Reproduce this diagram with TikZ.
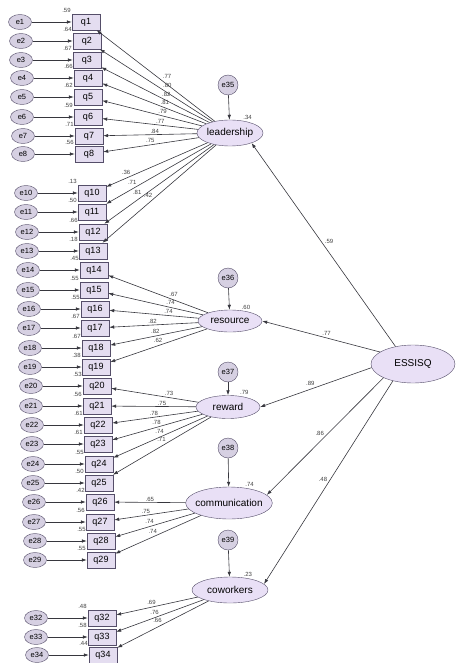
\documentclass[tikz,border=0pt]{standalone}
\usepackage{fontspec}
\setmainfont{Liberation Sans}
\usepackage{tikz}
\usetikzlibrary{arrows.meta,shapes.geometric}

\definecolor{boxfill}{RGB}{228,221,240}
\definecolor{latfill}{RGB}{233,224,246}
\definecolor{errfill}{RGB}{214,208,226}
\definecolor{edgegray}{RGB}{55,55,62}
\definecolor{rimgray}{RGB}{85,78,105}

\begin{document}
\begin{tikzpicture}[x=1pt,y=-1pt,>={Latex[length=5pt,width=3.5pt]},node distance=66pt,auto]
        \tikzstyle{item}=[draw=rimgray,fill=boxfill,rectangle,minimum width=28pt,minimum height=16pt,inner sep=0pt,font=\fontsize{9}{10}\selectfont]
        \tikzstyle{err}=[draw=rimgray,fill=errfill,ellipse,minimum width=23pt,minimum height=15pt,inner sep=0pt,font=\fontsize{7.5}{8}\selectfont]
        \tikzstyle{dist}=[err,circle,minimum size=20pt]
        \tikzstyle{latent}=[draw=rimgray,fill=latfill,ellipse,inner xsep=-3pt,inner ysep=0pt,font=\fontsize{10}{11}\selectfont]
        \tikzstyle{coef}=[font=\fontsize{6}{7}\selectfont,inner sep=1pt,text=black!75]
        \tikzstyle{r2}=[font=\fontsize{6}{7}\selectfont,inner sep=1pt,text=black!75]

        \useasboundingbox (0,0) rectangle (456,663);

        \node[item,label={[r2]north west:.59}]  (q1)  at (86,22)   {q1};
        \node[item,label={[r2]north west:.64}]  (q2)  at (87,41)   {q2};
        \node[item,label={[r2]north west:.67}]  (q3)  at (87,60)   {q3};
        \node[item,label={[r2]north west:.66}]  (q4)  at (88,78)   {q4};
        \node[item,label={[r2]north west:.62}]  (q5)  at (88,97)   {q5};
        \node[item,label={[r2]north west:.59}]  (q6)  at (88,117)  {q6};
        \node[item,label={[r2]north west:.71}]  (q7)  at (89,136)  {q7};
        \node[item,label={[r2]north west:.56}]  (q8)  at (89,154)  {q8};
        \node[item,label={[r2]north west:.13}]  (q10) at (92,193)  {q10};
        \node[item,label={[r2]north west:.50}]  (q11) at (92,212)  {q11};
        \node[item,label={[r2]north west:.66}]  (q12) at (93,232)  {q12};
        \node[item,label={[r2]north west:.18}]  (q13) at (93,251)  {q13};
        \node[item,label={[r2]north west:.45}]  (q14) at (94,270)  {q14};
        \node[item,label={[r2]north west:.55}]  (q15) at (94,290)  {q15};
        \node[item,label={[r2]north west:.55}]  (q16) at (95,309)  {q16};
        \node[item,label={[r2]north west:.67}]  (q17) at (95,328)  {q17};
        \node[item,label={[r2]north west:.67}]  (q18) at (96,348)  {q18};
        \node[item,label={[r2]north west:.38}]  (q19) at (96,367)  {q19};
        \node[item,label={[r2]north west:.53}]  (q20) at (97,386)  {q20};
        \node[item,label={[r2]north west:.56}]  (q21) at (97,406)  {q21};
        \node[item,label={[r2]north west:.61}]  (q22) at (98,425)  {q22};
        \node[item,label={[r2]north west:.61}]  (q23) at (98,444)  {q23};
        \node[item,label={[r2]north west:.55}]  (q24) at (99,464)  {q24};
        \node[item,label={[r2]north west:.50}]  (q25) at (99,483)  {q25};
        \node[item,label={[r2]north west:.42}]  (q26) at (100,502) {q26};
        \node[item,label={[r2]north west:.56}]  (q27) at (100,522) {q27};
        \node[item,label={[r2]north west:.55}]  (q28) at (101,541) {q28};
        \node[item,label={[r2]north west:.55}]  (q29) at (101,560) {q29};
        \node[item,label={[r2]north west:.48}]  (q32) at (102,618) {q32};
        \node[item,label={[r2]north west:.58}]  (q33) at (102,637) {q33};
        \node[item,label={[r2]north west:.44}]  (q34) at (103,655) {q34};

        \node[err]  (e1)  [left of=q1]   {e1};
        \node[err]  (e2)  [left of=q2]   {e2};
        \node[err]  (e3)  [left of=q3]   {e3};
        \node[err]  (e4)  [left of=q4]   {e4};
        \node[err]  (e5)  [left of=q5]   {e5};
        \node[err]  (e6)  [left of=q6]   {e6};
        \node[err]  (e7)  [left of=q7]   {e7};
        \node[err]  (e8)  [left of=q8]   {e8};
        \node[err]  (e10) [left of=q10]  {e10};
        \node[err]  (e11) [left of=q11]  {e11};
        \node[err]  (e12) [left of=q12]  {e12};
        \node[err]  (e13) [left of=q13]  {e13};
        \node[err]  (e14) [left of=q14]  {e14};
        \node[err]  (e15) [left of=q15]  {e15};
        \node[err]  (e16) [left of=q16]  {e16};
        \node[err]  (e17) [left of=q17]  {e17};
        \node[err]  (e18) [left of=q18]  {e18};
        \node[err]  (e19) [left of=q19]  {e19};
        \node[err]  (e20) [left of=q20]  {e20};
        \node[err]  (e21) [left of=q21]  {e21};
        \node[err]  (e22) [left of=q22]  {e22};
        \node[err]  (e23) [left of=q23]  {e23};
        \node[err]  (e24) [left of=q24]  {e24};
        \node[err]  (e25) [left of=q25]  {e25};
        \node[err]  (e26) [left of=q26]  {e26};
        \node[err]  (e27) [left of=q27]  {e27};
        \node[err]  (e28) [left of=q28]  {e28};
        \node[err]  (e29) [left of=q29]  {e29};
        \node[err]  (e32) [left of=q32]  {e32};
        \node[err]  (e33) [left of=q33]  {e33};
        \node[err]  (e34) [left of=q34]  {e34};

        \node[latent,minimum width=66pt,minimum height=26pt,label={[r2]45:.34}] (lead)   at (230,133) {leadership};
        \node[latent,minimum width=64pt,minimum height=22pt,label={[r2]45:.60}] (res)    at (230,321) {resource};
        \node[latent,minimum width=64pt,minimum height=23pt,label={[r2]45:.79}] (rew)    at (228,407) {reward};
        \node[latent,minimum width=86pt,minimum height=32pt,label={[r2]45:.74}] (comm)   at (229,503) {communication};
        \node[latent,minimum width=76pt,minimum height=26pt,label={[r2]45:.23}] (cow)    at (230,590) {coworkers};
        \node[latent,minimum width=84pt,minimum height=38pt]                    (essisq) at (413,364) {ESSISQ};

        \node[dist] (e35) at (228,85)  {e35};
        \node[dist] (e36) at (228,278) {e36};
        \node[dist] (e37) at (228,372) {e37};
        \node[dist] (e38) at (228,448) {e38};
        \node[dist] (e39) at (228,540) {e39};

        \path[->,color=edgegray,line width=0.6pt]
                  (e1)  edge (q1)
                  (e2)  edge (q2)
                  (e3)  edge (q3)
                  (e4)  edge (q4)
                  (e5)  edge (q5)
                  (e6)  edge (q6)
                  (e7)  edge (q7)
                  (e8)  edge (q8)
                  (e10) edge (q10)
                  (e11) edge (q11)
                  (e12) edge (q12)
                  (e13) edge (q13)
                  (e14) edge (q14)
                  (e15) edge (q15)
                  (e16) edge (q16)
                  (e17) edge (q17)
                  (e18) edge (q18)
                  (e19) edge (q19)
                  (e20) edge (q20)
                  (e21) edge (q21)
                  (e22) edge (q22)
                  (e23) edge (q23)
                  (e24) edge (q24)
                  (e25) edge (q25)
                  (e26) edge (q26)
                  (e27) edge (q27)
                  (e28) edge (q28)
                  (e29) edge (q29)
                  (e32) edge (q32)
                  (e33) edge (q33)
                  (e34) edge (q34)
                  (e35) edge (lead)
                  (e36) edge (res)
                  (e37) edge (rew)
                  (e38) edge (comm)
                  (e39) edge (cow)
                  (lead) edge node[coef,swap,pos=.45] {.77} (q1)% leadership
                         edge node[coef,swap,pos=.45] {.80} (q2)
                         edge node[coef,swap,pos=.45] {.82} (q3)
                         edge node[coef,swap,pos=.45] {.81} (q4)
                         edge node[coef,swap,pos=.45] {.79} (q5)
                         edge node[coef,swap,pos=.45] {.77} (q6)
                         edge node[coef,swap,pos=.45] {.84} (q7)
                         edge node[coef,swap,pos=.45] {.75} (q8)
                         edge node[coef,swap,pos=.75] {.36} (q10)
                         edge node[coef,swap,pos=.70] {.71} (q11)
                         edge node[coef,swap,pos=.65] {.81} (q12)
                         edge node[coef,swap,pos=.55] {.42} (q13)
                  (res)  edge node[coef,swap,pos=.4]  {.67} (q14)% resource
                         edge node[coef,swap,pos=.4]  {.74} (q15)
                         edge node[coef,swap,pos=.4]  {.74} (q16)
                         edge node[coef,swap,pos=.45] {.82} (q17)
                         edge node[coef,swap,pos=.45] {.82} (q18)
                         edge node[coef,swap,pos=.45] {.62} (q19)
                  (rew)  edge node[coef,swap,pos=.4]  {.73} (q20)% reward
                         edge node[coef,swap,pos=.4]  {.75} (q21)
                         edge node[coef,swap,pos=.45] {.78} (q22)
                         edge node[coef,swap,pos=.45] {.78} (q23)
                         edge node[coef,swap,pos=.45] {.74} (q24)
                         edge node[coef,swap,pos=.45] {.71} (q25)
                  (comm) edge node[coef,swap,pos=.5]  {.65} (q26)% communication
                         edge node[coef,swap,pos=.5]  {.75} (q27)
                         edge node[coef,swap,pos=.5]  {.74} (q28)
                         edge node[coef,swap,pos=.5]  {.74} (q29)
                  (cow)  edge node[coef,swap,pos=.5]  {.69} (q32)% coworkers
                         edge node[coef,swap,pos=.5]  {.76} (q33)
                         edge node[coef,swap,pos=.5]  {.66} (q34)
                  (essisq.135) edge node[coef,swap] {.59} (lead.-25)
                  (essisq.160) edge node[coef,swap] {.77} (res.east)
                  (essisq.185) edge node[coef,swap] {.89} (rew.east)
                  (essisq.205) edge node[coef,swap] {.86} (comm.12)
                  (essisq.220) edge node[coef,swap] {.48} (cow.10);
\end{tikzpicture}
\end{document}
